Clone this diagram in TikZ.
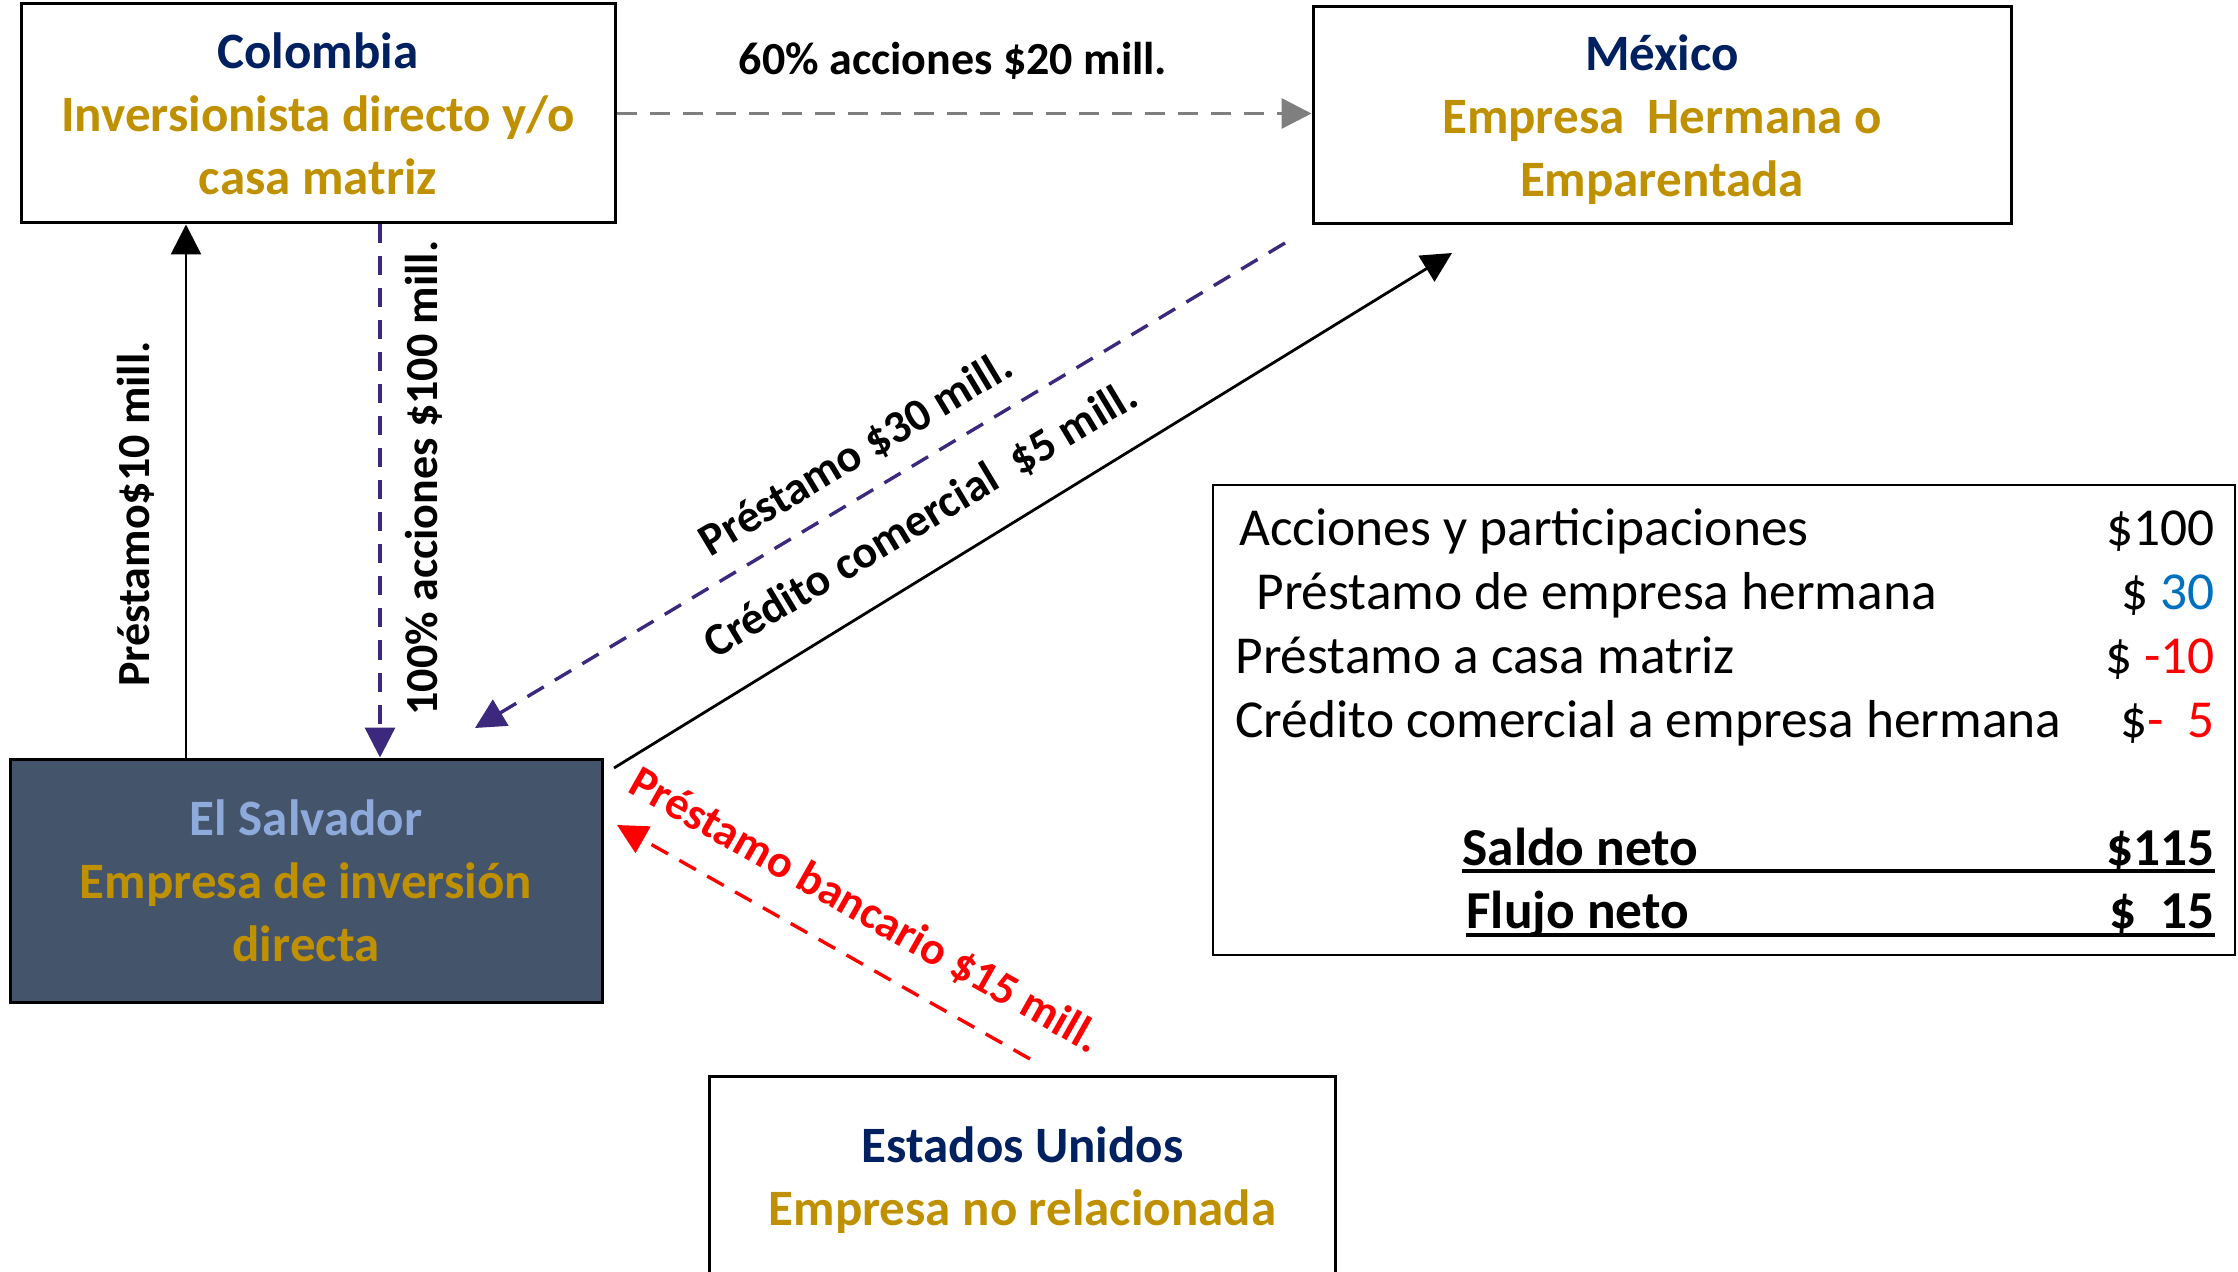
\documentclass[tikz,border=0pt]{standalone}
\usepackage{fontspec}
\setmainfont{Carlito}
\usetikzlibrary{arrows.meta,calc}
\definecolor{navy}{HTML}{002060}
\definecolor{gold}{HTML}{BF9000}
\definecolor{slate}{HTML}{44546A}
\definecolor{lblue}{HTML}{8EAADB}
\definecolor{purp}{RGB}{60,40,125}
\definecolor{vblue}{HTML}{0070C0}
\definecolor{arrgray}{HTML}{7F7F7F}
\begin{document}
\begin{tikzpicture}[x=0.5pt,y=-0.5pt,
 box/.style={draw=black,line width=1.5pt,inner sep=0pt,align=center,
   font=\fontsize{25.5}{31.5}\selectfont\bfseries},
 lab/.style={font=\fontsize{23}{28}\selectfont\bfseries,inner sep=0pt},
 tab/.style={font=\fontsize{26.7}{32}\selectfont,inner sep=0pt},
 tabb/.style={tab,font=\fontsize{26.7}{32}\selectfont\bfseries},
 tip/.style={-{Triangle[length=15pt,width=15pt]}},
 dsh/.style={dash pattern=on 9.5pt off 6.5pt},
]
\useasboundingbox (0,0) rectangle (2238,1272);

% boxes
\node[box,minimum width=297pt,minimum height=109.5pt] (col) at (318,113.5)
  {\textcolor{navy}{Colombia}\\ \textcolor{gold}{Inversionista directo y/o}\\ \textcolor{gold}{casa matriz}};
\node[box,minimum width=349pt,minimum height=108.5pt,text depth=0pt] (mex) at (1662,115.5)
  {\textcolor{navy}{México}\\ \textcolor{gold}{Empresa\ \ Hermana o}\\ \textcolor{gold}{Emparentada}};
\node[box,fill=slate,minimum width=296pt,minimum height=121.5pt] (esa) at (306,880.5)
  {\textcolor{lblue}{El Salvador}\\ \textcolor{gold}{Empresa de inversión}\\ \textcolor{gold}{directa}};
\node[box,draw=none,minimum width=311.5pt,minimum height=102pt] (usa) at (1022.5,1180)
  {\textcolor{navy}{Estados Unidos}\\ \textcolor{gold}{Empresa no relacionada}};
\draw[line width=1.5pt] (usa.south west) -- (usa.north west) -- (usa.north east) -- (usa.south east);
\node[draw=black,line width=1pt,minimum width=511pt,minimum height=235pt,inner sep=0pt] (tbl) at (1724,720) {};

% coordinates
\coordinate (a1) at (186,0);
\coordinate (a2) at (380,0);
\coordinate (p1) at (1285,243);
\coordinate (p2) at (475,728);
\coordinate (q1) at (614,768);
\coordinate (q2) at (1452,253);
\coordinate (r1) at (1030,1059);
\coordinate (r2) at (617,825);

% connectors
\draw[arrgray,line width=1.7pt,dash pattern=on 10pt off 6.5pt,tip] (col.east) -- (col.east -| mex.west);
\draw[black,line width=1.4pt,tip] (esa.north -| a1) -- (col.south -| a1);
\draw[purp,line width=1.7pt,dsh,tip] (col.south -| a2) -- (esa.north -| a2);
\draw[purp,line width=1.7pt,dsh,tip] (p1) -- (p2);
\draw[black,line width=1.4pt,tip] (q1) -- (q2);
\draw[red,line width=1.7pt,dsh,tip] (r1) -- (r2);

% labels
\node[lab] (l1) at (953,61) {60\% acciones \$20 mill.};
\node[lab,rotate=90] (l2) at (136,514) {Préstamo\$10 mill.};
\node[lab,rotate=90] (l3) at (424,478) {100\% acciones \$100 mill.};
\node[lab,rotate=31] (l4) at (856,454) {Préstamo \$30 mill.};
\node[lab,rotate=31] (l5) at (921,520) {Crédito comercial\ \ \$5 mill.};
\node[lab,red,rotate=-29.5] (l6) at (865,911) {Préstamo bancario \$15 mill.};

% table
\node[tab,anchor=mid west] (t1) at (1239,541) {Acciones y participaciones};
\node[tab,anchor=mid west] (t2) at (1256,605) {Préstamo de empresa hermana};
\node[tab,anchor=mid west] (t3) at (1235,669) {Préstamo a casa matriz};
\node[tab,anchor=mid west] (t4) at (1235,733) {Crédito comercial a empresa hermana};
\node[tab,anchor=mid east] (v1) at (2215,541) {\$100};
\node[tab,anchor=mid east] (v2) at (2215,605) {\$ \textcolor{vblue}{30}};
\node[tab,anchor=mid east] (v3) at (2215,669) {\$ \textcolor{red}{-10}};
\node[tab,anchor=mid east] (v4) at (2215,733) {\$\textcolor{red}{-\ \ 5}};
\node[tabb,anchor=mid west] (s1) at (1462,861) {Saldo neto};
\node[tabb,anchor=mid east] (s2) at (2215,861) {\$115};
\node[tabb,anchor=mid west] (f1) at (1466,924) {Flujo neto};
\node[tabb,anchor=mid east] (f2) at (2215,924) {\$\ \ 15};
\draw[line width=2pt] (s1.south west |- 0,871) -- (s2.east |- 0,871);
\draw[line width=2pt] (f1.south west |- 0,935) -- (f2.east |- 0,935);
\end{tikzpicture}
\end{document}
